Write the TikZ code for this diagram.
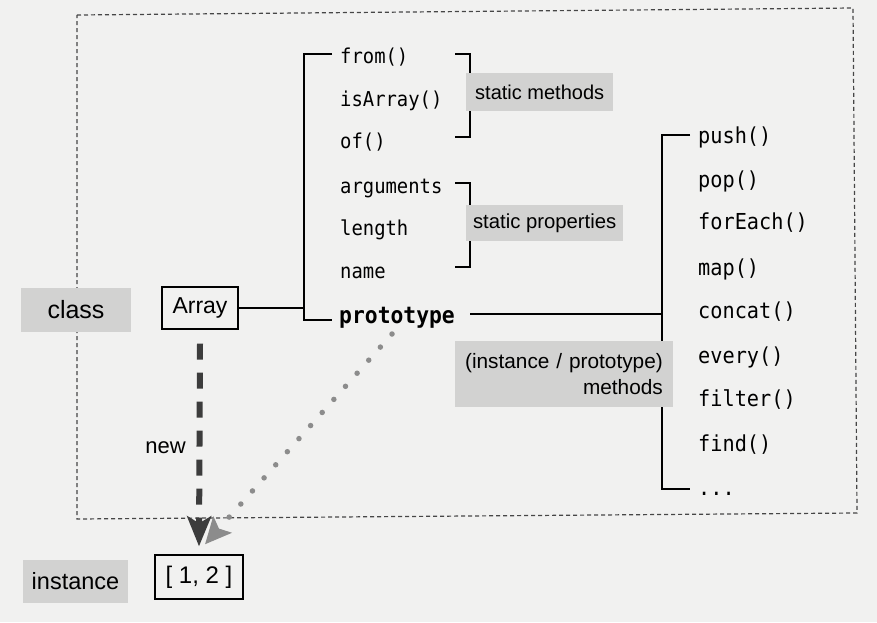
\documentclass[tikz,border=0pt]{standalone}
\usepackage{fontspec}
\setmainfont{Liberation Sans}
\newfontfamily\codefont[FakeStretch=0.92]{DejaVu Sans Mono}
\usetikzlibrary{arrows.meta}
\definecolor{paper}{RGB}{241,241,240}
\definecolor{labelgray}{RGB}{210,210,209}
\definecolor{darkarrow}{RGB}{60,60,60}
\definecolor{lightarrow}{RGB}{140,140,140}
\definecolor{framegray}{RGB}{70,70,70}
\tikzset{
  graylabel/.style={fill=labelgray, inner sep=0pt, text=black},
  blackbox/.style={draw=black, line width=1.4pt, inner sep=0pt},
  codeL/.style={anchor=base west, inner sep=0pt, font=\codefont\fontsize{20.5}{24}\selectfont},
  codeR/.style={anchor=base west, inner sep=0pt, font=\codefont\fontsize{22}{26}\selectfont},
  tree/.style={draw=black, line width=1.8pt},
  frame/.style={draw=framegray, line width=1.2pt, dash pattern=on 4pt off 3pt},
  newarrow/.style={draw=darkarrow, line width=6pt, dash pattern=on 16pt off 13pt,
     -{Stealth[length=30pt,width=24pt,inset=7pt,fill=darkarrow]}},
  protoarrow/.style={draw=lightarrow, line width=5.5pt, line cap=round, dash pattern=on 0pt off 17.5pt,
     -{Stealth[length=26pt,width=24pt,inset=5pt,fill=lightarrow]}},
}
\begin{document}
\begin{tikzpicture}[x=1pt,y=-1pt]
\fill[paper] (0,0) rectangle (877,622);
\useasboundingbox (0,0) rectangle (877,622);

% frame
\draw[frame] (77,15) -- (853,8) -- (857,513) -- (77,519) -- cycle;

% left column
\node[codeL] (from) at (340,63) {from()};
\node[codeL] (isarray) at (340,106) {isArray()};
\node[codeL] (of) at (340,148) {of()};
\node[codeL] (args) at (340,193) {arguments};
\node[codeL] (length) at (340,235) {length};
\node[codeL] (name) at (340,278) {name};
\node[anchor=base west, inner sep=0pt, font=\codefont\bfseries\fontsize{23.2}{26}\selectfont] (proto) at (339,323) {prototype};

% right column
\node[codeR] (push) at (698,143) {push()};
\node[codeR] (pop) at (698,187) {pop()};
\node[codeR] (foreach) at (698,229) {forEach()};
\node[codeR] (map) at (698,275) {map()};
\node[codeR] (concat) at (698,318) {concat()};
\node[codeR] (every) at (698,363) {every()};
\node[codeR] (filter) at (698,406) {filter()};
\node[codeR] (find) at (698,451) {find()};
\node[codeR] (more) at (698,495) {...};

% class / instance boxes
\node[graylabel, minimum width=110pt, minimum height=44pt, font=\fontsize{25}{28}\selectfont] (class) at (76,309.5) {class};
\node[graylabel, minimum width=105pt, minimum height=43pt, font=\fontsize{23.5}{26}\selectfont] (instlabel) at (75.5,581.5) {instance};
\node[blackbox, fill=paper, minimum width=76pt, minimum height=42pt, font=\fontsize{23}{26}\selectfont] (arr) at (200,308) {Array};
\node[blackbox, fill=paper, minimum width=88pt, minimum height=44pt, font=\fontsize{24}{26}\selectfont] (ins) at (199,577) {[ 1, 2 ]};

% tree coordinates
\coordinate (fromL) at (332,54);
\coordinate (t1) at (304,54);
\coordinate (t2) at (304,320);
\coordinate (protoL) at (332,320);
\draw[tree] (fromL) -- (t1) -- (t2) -- (protoL);
\draw[tree] (arr.east) -- (t1 |- arr.east);

% brackets
\coordinate (b1a) at (455,54);
\coordinate (b1b) at (470,54);
\coordinate (b1c) at (470,137);
\coordinate (b1d) at (455,137);
\draw[tree] (b1a) -- (b1b) -- (b1c) -- (b1d);
\coordinate (b2a) at (455,183);
\coordinate (b2b) at (470,183);
\coordinate (b2c) at (470,267);
\coordinate (b2d) at (455,267);
\draw[tree] (b2a) -- (b2b) -- (b2c) -- (b2d);

% right tree
\coordinate (r1) at (690,135);
\coordinate (r2) at (662,135);
\coordinate (r3) at (662,489);
\coordinate (r4) at (690,489);
\coordinate (protoR) at (470,314);
\draw[tree] (r1) -- (r2) -- (r3) -- (r4);
\draw[tree] (protoR) -- (r2 |- protoR);

% gray labels
\node[graylabel, anchor=north west, minimum width=147pt, minimum height=38pt, font=\fontsize{20}{24}\selectfont] (sm) at (466,73) {static methods};
\node[graylabel, anchor=north west, minimum width=157pt, minimum height=36pt, font=\fontsize{20.3}{24}\selectfont] (sp) at (466,205) {static properties};
\node[graylabel, anchor=north east, minimum height=66pt, inner xsep=10pt, text width=198pt, align=right, font=\fontsize{20.8}{26}\selectfont] (im) at (673,341) {(instance / prototype)\\methods};

% arrows
\coordinate (pd) at (392,334);
\draw[protoarrow] (pd) -- ([xshift=6pt,yshift=10pt]ins.north);
\draw[newarrow] ([yshift=-14pt]arr.south) -- ([yshift=8pt]ins.north);
\node[anchor=base east, inner sep=0pt, font=\fontsize{22}{24}\selectfont] (newlbl) at (186,453) {new};
\end{tikzpicture}
\end{document}
